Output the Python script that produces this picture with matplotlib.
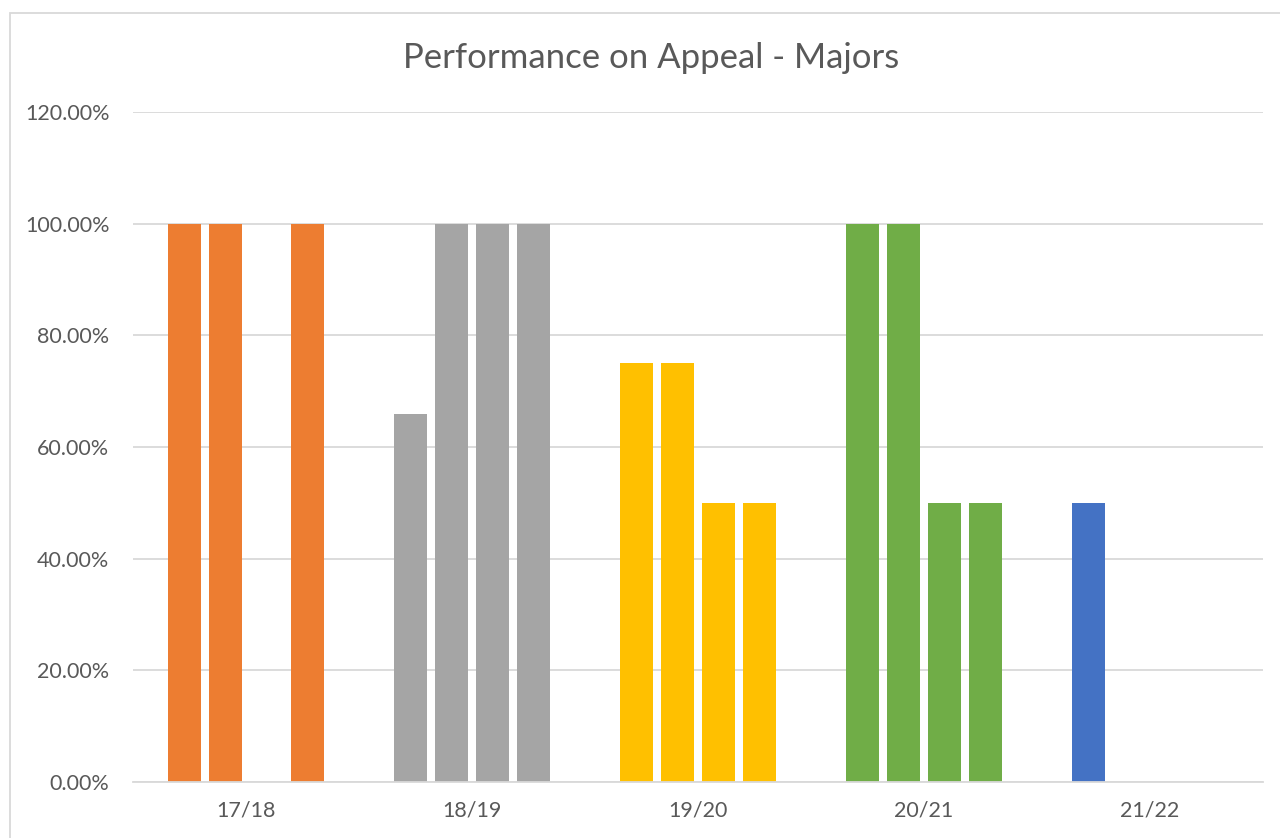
import numpy as np
import matplotlib
matplotlib.use("Agg")
import matplotlib.pyplot as plt
from matplotlib.patches import Rectangle
from matplotlib.ticker import FuncFormatter

categories = ["17/18", "18/19", "19/20", "20/21", "21/22"]
# four bar slots per category (None = no bar)
slot1 = [100, 66, 75, 100, 50]
slot2 = [100, 100, 75, 100, None]
slot3 = [None, 100, 50, 50, None]
slot4 = [100, 100, 50, 50, None]
category_colors = ["#ED7D31", "#A5A5A5", "#FFC000", "#70AD47", "#4472C4"]
yticks = [0, 20, 40, 60, 80, 100, 120]
title = "Performance on Appeal - Majors"

plt.rcParams['font.family'] = ['Lato', 'DejaVu Sans']
txt = "#595959"

W, H = 1280, 838
fig = plt.figure(figsize=(W / 100, H / 100), dpi=100)
fig.patch.set_facecolor("white")
ax = fig.add_axes([133 / W, 1 - 782 / H, (1263 - 133) / W, (782 - 112) / H])

slots = [slot1, slot2, slot3, slot4]
step = 0.181
width = 0.147
x = np.arange(len(categories))
for si, s in enumerate(slots):
    off = (si - 1.5) * step
    for ci, v in enumerate(s):
        if v is None:
            continue
        ax.bar(x[ci] + off, v, width=width, color=category_colors[ci], zorder=3)

ax.set_xlim(-0.5, len(categories) - 0.5)
ax.set_ylim(0, 120)
ax.set_yticks(yticks)
ax.yaxis.set_major_formatter(FuncFormatter(lambda v, p: f"{v:.2f}%"))
ax.set_xticks(x)
ax.set_xticklabels(categories)
ax.tick_params(axis="both", length=0, colors=txt, labelsize=15.5)
ax.tick_params(axis="y", pad=17)
ax.tick_params(axis="x", pad=13)
ax.grid(axis="y", color="#D9D9D9", linewidth=1.3, zorder=0)
for sp in ["top", "right", "left"]:
    ax.spines[sp].set_visible(False)
ax.spines["bottom"].set_color("#D9D9D9")
ax.spines["bottom"].set_linewidth(1.3)
ax.spines["bottom"].set_zorder(4)

fig.text(651 / W, 1 - 58 / H, title, ha="center", va="center", fontsize=25, color=txt)

fig.patches.append(Rectangle((9.5 / W, -0.1), 1.2, 1 - 13.5 / H + 0.1, transform=fig.transFigure,
                             fill=False, edgecolor="#D9D9D9", linewidth=1.3))

fig.savefig("out.png", dpi=100)
